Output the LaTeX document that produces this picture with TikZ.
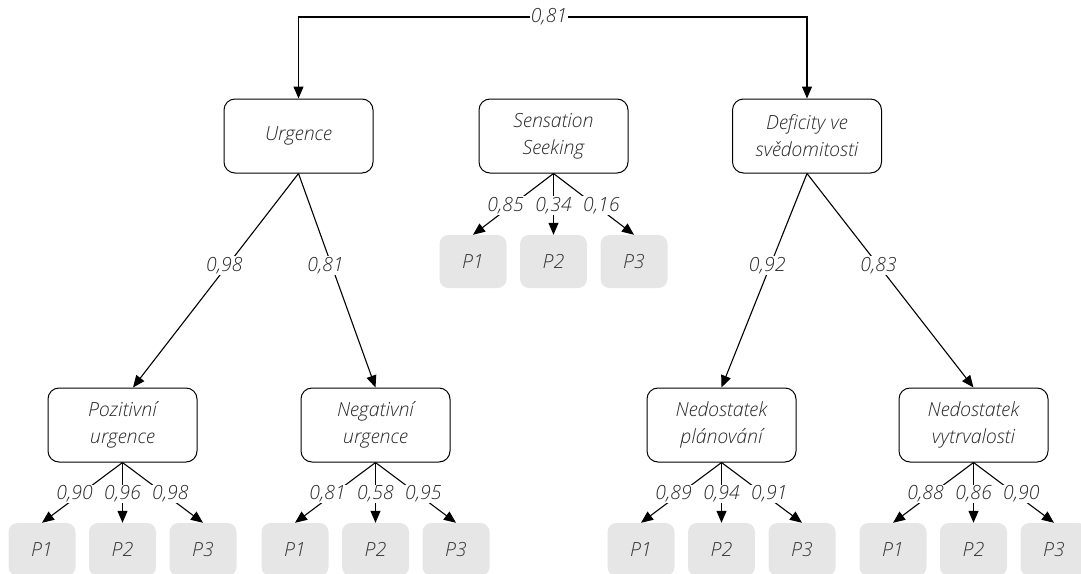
\documentclass[tikz,border=0pt]{standalone}
\usepackage{fontspec}
\setmainfont{Open Sans}[ItalicFont={Open Sans Light Italic}]
\usetikzlibrary{arrows.meta}
\definecolor{txt}{HTML}{262626}
\definecolor{leaffill}{HTML}{E6E6E6}
\definecolor{leaftxt}{HTML}{333333}
\tikzset{
  box/.style={draw=black, line width=1pt, rounded corners=11pt, minimum width=149pt, minimum height=74pt, align=center, text=txt, inner sep=0pt},
  leaf/.style={fill=leaffill, rounded corners=9pt, minimum width=67pt, minimum height=53pt, text=leaftxt, inner sep=0pt},
  arr/.style={draw=black, line width=1.1pt, -{Triangle[length=12pt,width=10pt]}},
  lbl/.style={fill=white, inner sep=1pt, text=txt},
}
\begin{document}
\begin{tikzpicture}[x=1pt,y=-1pt, font=\fontsize{19.5}{27}\selectfont\itshape]
\useasboundingbox (0,0) rectangle (1081,573);
% main boxes
\node[box] (urg) at (298.5,136) {Urgence};
\node[box] (sen) at (553.5,136) {Sensation\\Seeking};
\node[box] (def) at (807,136) {Deficity ve\\svědomitosti};
\node[box] (poz) at (122.5,425) {Pozitivní\\urgence};
\node[box] (neg) at (375.5,425) {Negativní\\urgence};
\node[box] (pla) at (721.5,425) {Nedostatek\\plánování};
\node[box] (vyt) at (973.5,425) {Nedostatek\\vytrvalosti};
% leaves
\foreach \p/\cx/\cy in {poz/122.5/549.5, neg/375.5/549.5, sen/553.5/261.5, pla/721.5/549.5, vyt/973.5/549.5}{
  \node[leaf] (\p1) at (\cx-80.5,\cy) {P1};
  \node[leaf] (\p2) at (\cx,\cy) {P2};
  \node[leaf] (\p3) at (\cx+80.5,\cy) {P3};
}
% top connector
\coordinate (tc) at (549,17);
\draw[arr] (tc) -| (urg.north);
\draw[arr] (tc) -| (def.north);
\node[lbl] (toplbl) at (tc) {0,81};
% second level
\draw[arr] (urg.south) -- node[lbl,pos=0.43,xshift=-3pt]{0,98} ([xshift=10.5pt]poz.north);
\draw[arr] (urg.south) -- node[lbl,pos=0.43,xshift=-6pt]{0,81} (neg.north);
\draw[arr] (def.south) -- node[lbl,pos=0.43,xshift=-3pt]{0,92} (pla.north);
\draw[arr] (def.south) -- node[lbl,pos=0.43]{0,83} (vyt.north);
% leaf connectors
\foreach \p/\a/\b/\c in {poz/{0,90}/{0,96}/{0,98}, neg/{0,81}/{0,58}/{0,95}, sen/{0,85}/{0,34}/{0,16}, pla/{0,89}/{0,94}/{0,91}, vyt/{0,88}/{0,86}/{0,90}}{
  \draw[arr] (\p.south) -- node[lbl,pos=0.52,xshift=-6pt]{\a} (\p1.north);
  \draw[arr] (\p.south) -- node[lbl,pos=0.52]{\b} (\p2.north);
  \draw[arr] (\p.south) -- node[lbl,pos=0.52,xshift=6pt]{\c} (\p3.north);
}
\end{tikzpicture}
\end{document}
